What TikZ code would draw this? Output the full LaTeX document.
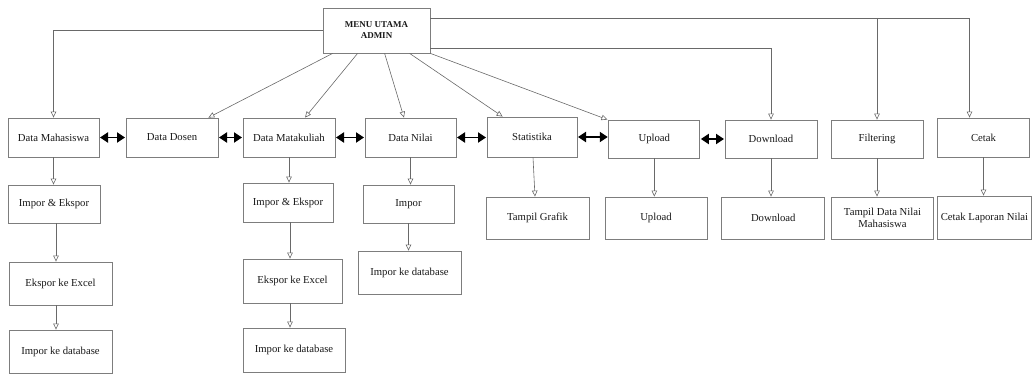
\documentclass[tikz,border=0pt]{standalone}
\usepackage{fontspec}
\setmainfont{Liberation Serif}
\usetikzlibrary{arrows.meta}
\definecolor{boxline}{RGB}{125,125,125}
\definecolor{linkline}{RGB}{105,105,105}
\definecolor{ink}{RGB}{25,25,25}
\begin{document}
\begin{tikzpicture}[x=1pt,y=-1pt,
  box/.style={draw=boxline, line width=0.8pt, fill=white, rectangle, inner sep=1pt,
    align=center, text=ink, font=\fontsize{10.7}{12}\selectfont},
  conn/.style={draw=linkline, line width=0.6pt,
    -{Triangle[open, length=6pt, width=5.5pt]}},
  link/.style={draw=black, line width=1.9pt,
    {Triangle[length=8pt, width=10pt]}-{Triangle[length=8pt, width=10pt]}, shorten <=0.6pt, shorten >=0.6pt}]
\path[use as bounding box] (0,0) rectangle (1033,374);

% main menu
\node[box, minimum width=107pt, minimum height=45pt, font=\fontsize{9}{11}\selectfont\bfseries]
  (menu) at (376.5,30.5) {MENU UTAMA\\ADMIN};

% first level
\node[box, minimum width=91pt, minimum height=39pt] (dm)  at (53.5,137.5) {Data Mahasiswa};
\node[box, minimum width=92pt, minimum height=39pt] (dd)  at (172,137.5)  {Data Dosen};
\node[box, minimum width=92pt, minimum height=39pt] (dmk) at (289,137.5)  {Data Matakuliah};
\node[box, minimum width=91pt, minimum height=39pt] (dn)  at (410.5,137.5){Data Nilai};
\node[box, minimum width=90pt, minimum height=40pt] (st)  at (532,137)    {Statistika};
\node[box, minimum width=91pt, minimum height=38pt] (up)  at (654.3,139)  {Upload};
\node[box, minimum width=92pt, minimum height=38pt] (dl)  at (771,139)    {Download};
\node[box, minimum width=92pt, minimum height=38pt] (fi)  at (877,139)    {Filtering};
\node[box, minimum width=92pt, minimum height=39pt] (ce)  at (983.5,137.5){Cetak};

% second level and below
\node[box, minimum width=92pt,  minimum height=38pt] (ie1) at (54,204)     {Impor \& Ekspor};
\node[box, minimum width=103pt, minimum height=43pt] (ex1) at (60.5,283.5) {Ekspor ke Excel};
\node[box, minimum width=103pt, minimum height=43pt] (db1) at (60.5,351.5) {Impor ke database};
\node[box, minimum width=90pt,  minimum height=39pt] (ie3) at (288,202.5)  {Impor \& Ekspor};
\node[box, minimum width=99pt,  minimum height=44pt] (ex3) at (292.5,281)  {Ekspor ke Excel};
\node[box, minimum width=102pt, minimum height=44pt] (db3) at (294,350)    {Impor ke database};
\node[box, minimum width=91pt,  minimum height=38pt] (im)  at (408.5,204)  {Impor};
\node[box, minimum width=103pt, minimum height=43pt] (db4) at (409.5,272.5){Impor ke database};
\node[box, minimum width=103pt, minimum height=42pt] (tg)  at (537.5,218)  {Tampil Grafik};
\node[box, minimum width=102pt, minimum height=42pt] (up2) at (656,218)    {Upload};
\node[box, minimum width=103pt, minimum height=42pt] (dl2) at (773.3,218)  {Download};
\node[box, minimum width=102pt, minimum height=42pt] (td)  at (882.5,218)  {Tampil Data Nilai\\Mahasiswa};
\node[box, minimum width=94pt,  minimum height=43pt] (cl)  at (984.5,217.5){Cetak Laporan Nilai};

% branches leaving the main menu
\coordinate (j1) at ([yshift=-10.3pt]menu.north east);
\coordinate (j2) at ([yshift=5.3pt]menu.south east);
\draw[conn] (menu.west) -| (dm.north);
\draw[conn] ([xshift=10pt]menu.south west) -- ([xshift=-10pt]dd.north east);
\draw[conn] ([xshift=35pt]menu.south west) -- ([xshift=16pt]dmk.north);
\draw[conn] ([xshift=62pt]menu.south west) -- ([xshift=-6.5pt]dn.north);
\draw[conn] ([xshift=87pt]menu.south west) -- ([xshift=16pt]st.north west);
\draw[conn] (menu.south east) -- ([xshift=-1pt]up.north west);
\draw[conn] (j2) -| (dl.north);
\draw[conn] (j1) -| ([xshift=-14pt]ce.north);
\draw[conn] (fi.north |- j1) -- (fi.north);

% links between the modules
\draw[link] (dm.east) -- (dd.west);
\draw[link] (dd.east) -- (dmk.west);
\draw[link] (dmk.east) -- (dn.west);
\draw[link] (dn.east) -- (dn.east -| st.west);
\draw[link] (st.east) -- (st.east -| up.west);
\draw[link] (up.east) -- (dl.west);

% sub menus
\draw[conn] (dm.south)  -- (dm.south |- ie1.north);
\draw[conn] ([xshift=2pt]ie1.south) -- ([xshift=2pt]ie1.south |- ex1.north);
\draw[conn] ([xshift=2pt]ex1.south -| ie1.south) -- ([xshift=2pt]ie1.south |- db1.north);
\draw[conn] (dmk.south) -- (dmk.south |- ie3.north);
\draw[conn] ([xshift=2pt]ie3.south) -- ([xshift=2pt]ie3.south |- ex3.north);
\draw[conn] ([xshift=2pt]ex3.south -| ie3.south) -- ([xshift=2pt]ie3.south |- db3.north);
\draw[conn] (dn.south)  -- (dn.south |- im.north);
\draw[conn] (im.south)  -- (im.south |- db4.north);
\draw[conn] ([xshift=1pt]st.south) -- ([xshift=3pt]st.south |- tg.north);
\draw[conn] (up.south)  -- (up.south |- up2.north);
\draw[conn] (dl.south)  -- (dl.south |- dl2.north);
\draw[conn] (fi.south)  -- (fi.south |- td.north);
\draw[conn] (ce.south)  -- (ce.south |- cl.north);
\end{tikzpicture}
\end{document}
